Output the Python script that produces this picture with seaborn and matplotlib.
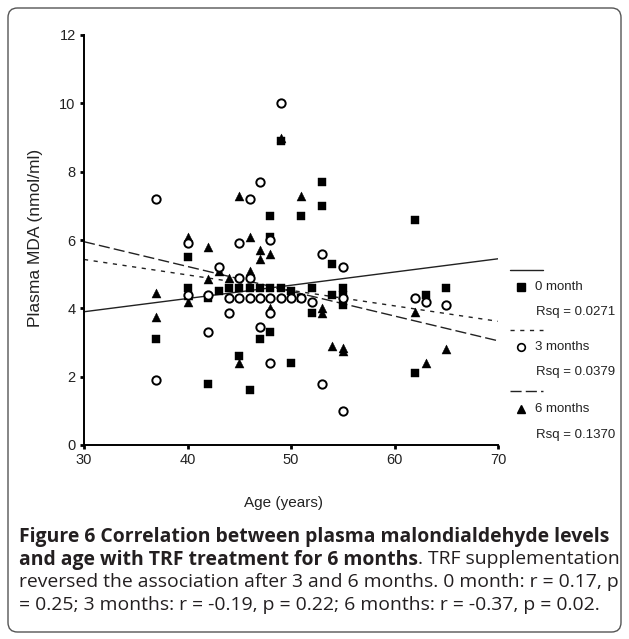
import matplotlib
matplotlib.use("Agg")
import matplotlib.pyplot as plt
import seaborn as sns
import pandas as pd
from matplotlib.patches import FancyBboxPatch
from matplotlib.lines import Line2D

# ---------------- data ----------------
age_0m = [37, 40, 40, 42, 42, 43, 44, 45, 45, 46, 46, 47, 47, 48, 48, 48, 48,
          49, 49, 50, 50, 51, 51, 52, 52, 53, 53, 54, 54, 55, 55, 55, 62, 62, 63, 65]
mda_0m = [3.1, 5.5, 4.6, 4.3, 1.8, 4.5, 4.6, 4.6, 2.6, 4.6, 1.6, 4.6, 3.1, 6.7, 6.1, 4.6, 3.3,
          8.9, 4.6, 4.5, 2.4, 6.7, 4.3, 4.6, 3.85, 7.7, 7.0, 5.3, 4.4, 4.6, 4.4, 4.1, 6.6, 2.1, 4.4, 4.6]

age_3m = [37, 37, 40, 40, 42, 42, 43, 44, 44, 45, 45, 45, 46, 46, 46, 47, 47, 47,
          48, 48, 48, 48, 49, 49, 50, 51, 52, 53, 53, 55, 55, 55, 62, 63, 65]
mda_3m = [7.2, 1.9, 5.9, 4.4, 4.4, 3.3, 5.2, 4.3, 3.85, 5.9, 4.9, 4.3, 7.2, 4.9, 4.3, 7.7, 4.3, 3.45,
          6.0, 4.3, 3.85, 2.4, 10.0, 4.3, 4.3, 4.3, 4.2, 5.6, 1.8, 5.2, 4.3, 1.0, 4.3, 4.2, 4.1]

age_6m = [37, 37, 40, 40, 40, 42, 42, 43, 44, 45, 45, 46, 46, 47, 47, 48, 48,
          49, 50, 51, 53, 53, 54, 55, 55, 62, 63, 65]
mda_6m = [4.45, 3.75, 6.1, 4.4, 4.2, 5.8, 4.85, 5.1, 4.9, 7.3, 2.4, 6.1, 5.1, 5.7, 5.45, 5.6, 4.0,
          9.0, 4.45, 7.3, 4.0, 3.85, 2.9, 2.85, 2.75, 3.9, 2.4, 2.8]

groups = ["0 month", "3 months", "6 months"]
rsq_labels = ["Rsq = 0.0271", "Rsq = 0.0379", "Rsq = 0.1370"]
# fitted regression lines, value at age 30 and at age 70
fit_x = [30, 70]
fit_y_0m = [3.9, 5.45]
fit_y_3m = [5.43, 3.62]
fit_y_6m = [5.95, 3.05]

x_ticks = [30, 40, 50, 60, 70]
y_ticks = [0, 2, 4, 6, 8, 10, 12]

caption_bold = ["Figure 6 Correlation between plasma malondialdehyde levels",
                "and age with TRF treatment for 6 months"]
caption_rest = [". TRF supplementation",
                "reversed the association after 3 and 6 months. 0 month: r = 0.17, p",
                "= 0.25; 3 months: r = -0.19, p = 0.22; 6 months: r = -0.37, p = 0.02."]

# ---------------- figure ----------------
sns.set_theme(style="white")
plt.rcParams["font.family"] = ["Liberation Sans", "DejaVu Sans"]

W, H = 629, 639
fig = plt.figure(figsize=(W / 100, H / 100), dpi=100)
fig.patch.set_facecolor("white")

def fx(px):
    return px / W

def fy(py):
    return 1 - py / H

ax = fig.add_axes([fx(84), fy(445), fx(498) - fx(84), fy(35) - fy(445)])
ax.set_facecolor("white")

df0 = pd.DataFrame({"age": age_0m, "mda": mda_0m})
df3 = pd.DataFrame({"age": age_3m, "mda": mda_3m})
df6 = pd.DataFrame({"age": age_6m, "mda": mda_6m})

line_kw = dict(color="#222222", linewidth=1.0)
sns.lineplot(x=fit_x, y=fit_y_0m, ax=ax, **line_kw)
l3 = sns.lineplot(x=fit_x, y=fit_y_3m, ax=ax, **line_kw).lines[-1]
l3.set_dashes((3, 4))
l6 = sns.lineplot(x=fit_x, y=fit_y_6m, ax=ax, **line_kw).lines[-1]
l6.set_dashes((8, 3))

sns.scatterplot(data=df6, x="age", y="mda", ax=ax, marker="^", s=42,
                color="black", edgecolor="black", linewidth=0.3, zorder=3)
sns.scatterplot(data=df0, x="age", y="mda", ax=ax, marker="s", s=26,
                color="black", edgecolor="black", linewidth=0.3, zorder=4)
sns.scatterplot(data=df3, x="age", y="mda", ax=ax, marker="o", s=36,
                facecolor="white", edgecolor="black", linewidth=1.4, zorder=5)

ax.set_xlim(30, 70)
ax.set_ylim(0, 12)
ax.set_xticks(x_ticks)
ax.set_yticks(y_ticks)
ax.set_xticklabels([str(t) for t in x_ticks], fontsize=10.5)
ax.set_yticklabels([str(t) for t in y_ticks], fontsize=10.5)
ax.set_xlabel("")
ax.set_ylabel("")
for side in ["top", "right"]:
    ax.spines[side].set_visible(False)
for side in ["left", "bottom"]:
    ax.spines[side].set_color("black")
    ax.spines[side].set_linewidth(1.4)
ax.tick_params(axis="both", which="both", direction="out", length=3, width=2,
               color="black", labelcolor="#222222", pad=3, left=True, bottom=True)
for coll in ax.collections:
    coll.set_clip_on(False)

# axis titles
fig.text(fx(36), fy(238), "Plasma MDA (nmol/ml)", rotation=90, ha="center", va="center",
         fontsize=12.5, color="#222222")
fig.text(fx(283), fy(503), "Age (years)", ha="center", va="center", fontsize=11, color="#222222")

# legend (outside the axes on the right)
leg_line_y = [270, 330, 391]
leg_lab_y = [287, 347, 409]
leg_rsq_y = [312, 372, 435]
dash_styles = [None, (3, 4), (8, 3)]
markers = ["s", "o", "^"]
for i, g in enumerate(groups):
    ln = Line2D([fx(510), fx(543)], [fy(leg_line_y[i])] * 2, color="#222222", linewidth=1.0,
                transform=fig.transFigure)
    if dash_styles[i] is not None:
        ln.set_dashes(dash_styles[i])
    fig.add_artist(ln)
    if markers[i] == "o":
        mk = Line2D([fx(521)], [fy(leg_lab_y[i])], marker="o", markersize=5.5,
                    markerfacecolor="white", markeredgecolor="black", markeredgewidth=1.2,
                    linestyle="none", transform=fig.transFigure)
    else:
        mk = Line2D([fx(521)], [fy(leg_lab_y[i])], marker=markers[i], markersize=5.2,
                    color="black", linestyle="none", transform=fig.transFigure)
    fig.add_artist(mk)
    fig.text(fx(535), fy(leg_lab_y[i]), g, ha="left", va="center", fontsize=9.5, color="#222222")
    fig.text(fx(536), fy(leg_rsq_y[i]), rsq_labels[i], ha="left", va="center", fontsize=9.5,
             color="#222222")

# outer rounded frame
frame = FancyBboxPatch((fx(8), fy(632)), fx(621) - fx(8), fy(8) - fy(632),
                       boxstyle="round,pad=0,rounding_size=0.015", transform=fig.transFigure,
                       facecolor="none", edgecolor="#555555", linewidth=1.0)
fig.add_artist(frame)

# caption: size the bold first line so it spans the frame like the reference
cap_font = ["Open Sans", "DejaVu Sans"]
cap_color = "#231f20"
cap_x = 19
cap_right = 612
cap_y = [537, 559.5, 582, 604.5]
renderer = fig.canvas.get_renderer()
probe = fig.text(0, 0, caption_bold[0], fontsize=10, fontweight="bold", family=cap_font)
wid = probe.get_window_extent(renderer).width
probe.remove()
cap_size = 10 * (cap_right - cap_x) / wid

t1 = fig.text(fx(cap_x), fy(cap_y[0]), caption_bold[0], ha="left", va="center", fontsize=cap_size,
              fontweight="bold", family=cap_font, color=cap_color)
t2 = fig.text(fx(cap_x), fy(cap_y[1]), caption_bold[1], ha="left", va="center", fontsize=cap_size,
              fontweight="bold", family=cap_font, color=cap_color)
bb = t2.get_window_extent(renderer)
fig.text(bb.x1 / W, fy(cap_y[1]), caption_rest[0], ha="left", va="center", fontsize=cap_size,
         family=cap_font, color=cap_color)
fig.text(fx(cap_x), fy(cap_y[2]), caption_rest[1], ha="left", va="center", fontsize=cap_size,
         family=cap_font, color=cap_color)
fig.text(fx(cap_x), fy(cap_y[3]), caption_rest[2], ha="left", va="center", fontsize=cap_size,
         family=cap_font, color=cap_color)

fig.savefig("out.png", dpi=100)
